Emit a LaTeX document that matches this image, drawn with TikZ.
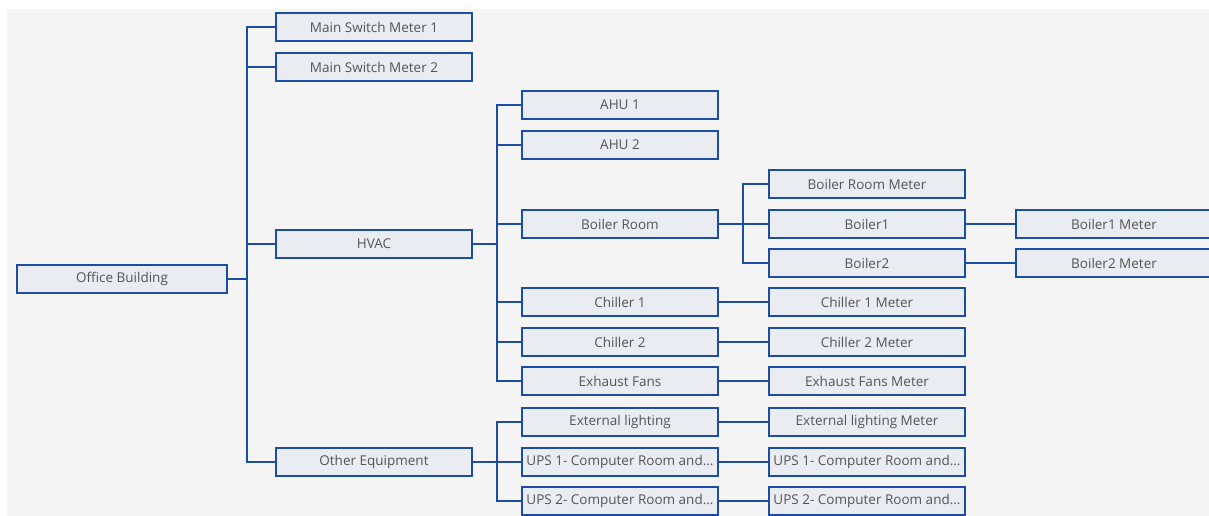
\documentclass[tikz,border=0pt]{standalone}
\usepackage{fontspec}
\setmainfont{Open Sans}
\usetikzlibrary{positioning}

\definecolor{lineblue}{HTML}{1C4DA6}
\definecolor{boxfill}{HTML}{E9ECF0}
\definecolor{bggray}{HTML}{F4F4F4}
\definecolor{txtgray}{HTML}{555555}

\begin{document}
\begin{tikzpicture}[x=1pt,y=-1pt,
		meter/.style={draw=lineblue, line width=2.2pt, fill=boxfill, text=txtgray,
			minimum width=196pt, minimum height=28pt, inner sep=0pt,
			font=\fontsize{13.5}{15}\selectfont},
		link/.style={draw=lineblue, line width=2.4pt}]
		\useasboundingbox (0,0) rectangle (1209,516);
		\clip (0,0) rectangle (1209,516);
		\fill[bggray] (7,9) rectangle (1209,516);
		
		% root and first level
		\node[meter, minimum width=210pt] (office) at (122,279) {Office Building};
		\node[meter] (msm1) at (374,27) {Main Switch Meter 1};
		\node[meter] (msm2) at (374,67) {Main Switch Meter 2};
		\node[meter] (hvac) at (374,244) {HVAC};
		\node[meter] (other) at (374,462) {Other Equipment};
		
		% second level
		\node[meter] (ahu1) at (620,105) {AHU 1};
		\node[meter] (ahu2) at (620,145) {AHU 2};
		\node[meter] (boiler) at (620,224) {Boiler Room};
		\node[meter] (chil1) at (620,302) {Chiller 1};
		\node[meter] (chil2) at (620,342) {Chiller 2};
		\node[meter] (exfan) at (620,381) {Exhaust Fans};
		\node[meter] (extl) at (620,422) {External lighting};
		\node[meter] (ups1) at (620,462) {UPS 1- Computer Room and...};
		\node[meter] (ups2) at (620,501) {UPS 2- Computer Room and...};
		
		% third level
		\node[meter] (brm) at (867,184) {Boiler Room Meter};
		\node[meter] (blr1) at (867,224) {Boiler1};
		\node[meter] (blr2) at (867,263) {Boiler2};
		\node[meter] (c1m) at (867,302) {Chiller 1 Meter};
		\node[meter] (c2m) at (867,342) {Chiller 2 Meter};
		\node[meter] (efm) at (867,381) {Exhaust Fans Meter};
		\node[meter] (elm) at (867,422) {External lighting Meter};
		\node[meter] (u1m) at (867,462) {UPS 1- Computer Room and...};
		\node[meter] (u2m) at (867,501) {UPS 2- Computer Room and...};
		
		% fourth level
		\node[meter] (b1m) at (1114,224) {Boiler1 Meter};
		\node[meter] (b2m) at (1114,263) {Boiler2 Meter};
		
		% elbow links
		\foreach \c in {msm1,msm2,hvac,other}
		\draw[link] (office.east) -- ++(19,0) |- (\c.west);
		\foreach \c in {ahu1,ahu2,boiler,chil1,chil2,exfan}
		\draw[link] (hvac.east) -- ++(24,0) |- (\c.west);
		\foreach \c in {extl,ups1,ups2}
		\draw[link] (other.east) -- ++(24,0) |- (\c.west);
		\foreach \c in {brm,blr1,blr2}
		\draw[link] (boiler.east) -- ++(24,0) |- (\c.west);
		
		% straight links
		\draw[link] (blr1) -- (b1m);
		\draw[link] (blr2) -- (b2m);
		\draw[link] (chil1) -- (c1m);
		\draw[link] (chil2) -- (c2m);
		\draw[link] (exfan) -- (efm);
		\draw[link] (extl) -- (elm);
		\draw[link] (ups1) -- (u1m);
		\draw[link] (ups2) -- (u2m);
	\end{tikzpicture}
\end{document}
